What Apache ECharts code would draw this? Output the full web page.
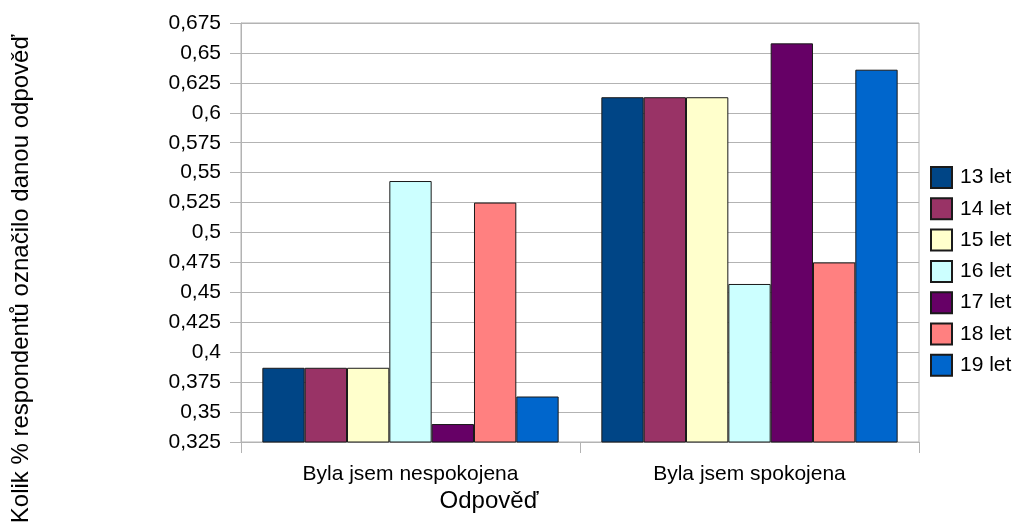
<!DOCTYPE html>
<html>
<head>
<meta charset="utf-8">
<script src="https://cdn.jsdelivr.net/npm/echarts@6/dist/echarts.min.js"></script>
<style>html,body{margin:0;padding:0;background:#fff}#c{width:1013px;height:524px}</style>
</head>
<body>
<div id="c"></div>
<script>
const categories = ['Byla jsem nespokojena', 'Byla jsem spokojena'];
const seriesNames = ['13 let', '14 let', '15 let', '16 let', '17 let', '18 let', '19 let'];
const colors = ['#004586', '#993366', '#ffffcc', '#ccffff', '#660066', '#ff8080', '#0066cc'];
const v13 = [0.387, 0.613];
const v14 = [0.387, 0.613];
const v15 = [0.387, 0.613];
const v16 = [0.543, 0.457];
const v17 = [0.340, 0.658];
const v18 = [0.525, 0.475];
const v19 = [0.363, 0.636];
const values = [v13, v14, v15, v16, v17, v18, v19];
const yMin = 0.325, yMax = 0.675, yStep = 0.025;
const xTitle = 'Odpověď';
const yTitle = 'Kolik % respondentů označilo danou odpověď';

const FONT = '"Liberation Sans", Arial, sans-serif';
const chart = echarts.init(document.getElementById('c'), null, {renderer: 'canvas'});
chart.setOption({
  animation: false,
  textStyle: {fontFamily: FONT},
  grid: {left: 241, right: 94, top: 23, bottom: 82, show: true, borderColor: '#b3b3b3', borderWidth: 1},
  legend: {
    orient: 'vertical', left: 930, top: 166, padding: 0,
    itemWidth: 21, itemHeight: 21, itemGap: 8.3,
    textStyle: {fontSize: 21, color: '#000', fontFamily: FONT, padding: [0, 0, 0, 3]},
    icon: 'rect',
    data: seriesNames
  },
  xAxis: {
    type: 'category', data: categories,
    axisLine: {lineStyle: {color: '#b3b3b3'}},
    axisTick: {show: true, length: 11, lineStyle: {color: '#b3b3b3'}},
    axisLabel: {fontSize: 21, color: '#000', margin: 22, fontFamily: FONT}
  },
  yAxis: {
    type: 'value', min: yMin, max: yMax, interval: yStep,
    axisLine: {show: true, lineStyle: {color: '#b3b3b3'}},
    axisTick: {show: true, length: 11, lineStyle: {color: '#b3b3b3'}},
    splitLine: {lineStyle: {color: '#b3b3b3'}},
    axisLabel: {fontSize: 21, color: '#000', margin: 20, fontFamily: FONT,
      formatter: v => String(+v.toFixed(3)).replace('.', ',')}
  },
  graphic: [
    {type: 'text', x: 489, y: 501, style: {text: xTitle, fill: '#000', font: '24px ' + FONT, align: 'center', verticalAlign: 'middle'}},
    {type: 'text', x: 21, y: 279, rotation: Math.PI / 2, style: {text: yTitle, fill: '#000', font: '24px ' + FONT, align: 'center', verticalAlign: 'middle'}}
  ],
  series: seriesNames.map((n, i) => ({
    name: n, type: 'bar', data: values[i],
    barGap: '0%', barCategoryGap: '12.6%',
    itemStyle: {color: colors[i], borderColor: '#1a1a1a', borderWidth: 1}
  }))
});
</script>
</body>
</html>
